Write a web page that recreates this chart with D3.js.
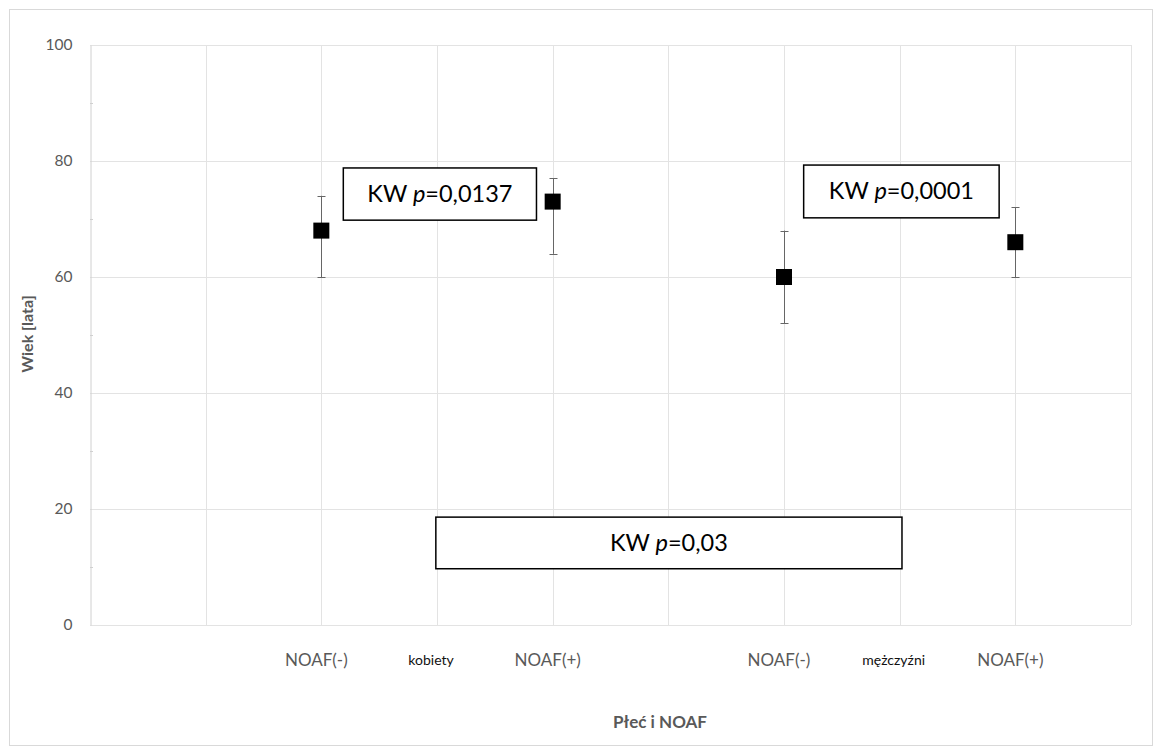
<!DOCTYPE html>
<html lang="pl">
<head>
<meta charset="utf-8">
<script src="https://cdn.jsdelivr.net/npm/d3@7"></script>
<style>
  html, body { margin: 0; padding: 0; background: #fff; }
  svg { display: block; font-family: Lato, "Open Sans", "Noto Sans", sans-serif; }
</style>
</head>
<body>
<svg id="chart" width="1160" height="755"></svg>
<script>
// Age (mean with spread) by sex and NOAF status
const groupLabels = ["NOAF(-)", "NOAF(+)", "NOAF(-)", "NOAF(+)"];
const groupSlots  = [2, 4, 6, 8];
const meanAge     = [68, 73, 60, 66];
const lowAge      = [60, 64, 52, 60];
const highAge     = [74, 77, 68, 72];

const sexLabels = ["kobiety", "mężczyźni"];
const sexSlots  = [3, 7];

const yTicks = [0, 20, 40, 60, 80, 100];
const yMinorTicks = [10, 30, 50, 70, 90];
const xGridSlots = [0, 1, 2, 3, 4, 5, 6, 7, 8, 9];

const testValues = ["=0,0137", "=0,0001", "=0,03"];

const svg = d3.select("#chart");

// chart frame
svg.append("rect")
  .attr("x", 9.5).attr("y", 9.5)
  .attr("width", 1143).attr("height", 736)
  .attr("fill", "#fff").attr("stroke", "#d9d9d9").attr("stroke-width", 1);

const x = d3.scaleLinear().domain([0, 9]).range([90, 1131]);
const y = d3.scaleLinear().domain([0, 100]).range([625, 45]);

const grid = svg.append("g").attr("class", "grid");
grid.selectAll("line.h").data(yTicks).join("line")
  .attr("class", "h")
  .attr("x1", x(0)).attr("x2", x(9))
  .attr("y1", d => Math.round(y(d)) + 0.5).attr("y2", d => Math.round(y(d)) + 0.5)
  .attr("stroke", "#e3e3e3").attr("stroke-width", 1);
grid.selectAll("line.v").data(xGridSlots.slice(1)).join("line")
  .attr("class", "v")
  .attr("x1", d => Math.round(x(d)) + 0.5).attr("x2", d => Math.round(x(d)) + 0.5)
  .attr("y1", y(100)).attr("y2", y(0))
  .attr("stroke", "#e3e3e3").attr("stroke-width", 1);

// y axis
const yAxis = d3.axisLeft(y).tickValues(yTicks).tickSize(0).tickPadding(18);
const gy = svg.append("g").attr("transform", `translate(${Math.round(x(0)) + 0.5},0)`).call(yAxis);
gy.select(".domain").attr("stroke", "#d0d0d0");
gy.selectAll("text").attr("fill", "#595959").attr("font-size", 15.5)
  .attr("font-family", "Lato, 'Open Sans', sans-serif");

svg.append("g").selectAll("line").data(yMinorTicks).join("line")
  .attr("x1", x(0)).attr("x2", x(0) + 3)
  .attr("y1", d => Math.round(y(d)) + 0.5).attr("y2", d => Math.round(y(d)) + 0.5)
  .attr("stroke", "#d0d0d0");

// category labels along the bottom
svg.append("g").selectAll("text").data(groupLabels).join("text")
  .attr("x", (d, i) => x(groupSlots[i]) - 5)
  .attr("y", 666)
  .attr("text-anchor", "middle")
  .attr("font-size", 17).attr("fill", "#595959")
  .text(d => d);
svg.append("g").selectAll("text").data(sexLabels).join("text")
  .attr("x", (d, i) => x(sexSlots[i]) - 6)
  .attr("y", 665)
  .attr("text-anchor", "middle")
  .attr("font-size", 14).attr("fill", "#111")
  .text(d => d);

// axis titles
svg.append("text")
  .attr("transform", "translate(33,334) rotate(-90)")
  .attr("text-anchor", "middle")
  .attr("font-size", 16).attr("font-weight", "bold").attr("fill", "#595959")
  .text("Wiek [lata]");
svg.append("text")
  .attr("x", 660).attr("y", 728)
  .attr("text-anchor", "middle")
  .attr("font-size", 17).attr("font-weight", "bold").attr("fill", "#595959")
  .text("Płeć i NOAF");

// error bars
const eb = svg.append("g").attr("stroke", "#666").attr("stroke-width", 1);
groupSlots.forEach((s, i) => {
  const cx = Math.round(x(s)) + 0.5;
  eb.append("line").attr("x1", cx).attr("x2", cx).attr("y1", y(highAge[i])).attr("y2", y(lowAge[i]));
  [highAge[i], lowAge[i]].forEach(v => {
    eb.append("line").attr("x1", cx - 4).attr("x2", cx + 4)
      .attr("y1", Math.round(y(v)) + 0.5).attr("y2", Math.round(y(v)) + 0.5);
  });
});

// mean markers
const sz = 16;
svg.append("g").selectAll("rect").data(meanAge).join("rect")
  .attr("x", (d, i) => x(groupSlots[i]) - sz / 2)
  .attr("y", d => y(d) - sz / 2)
  .attr("width", sz).attr("height", sz)
  .attr("fill", "#000");

// Kruskal-Wallis annotation boxes
const boxes = [
  { x0: 2.19, x1: 3.86, y0: 78.8, y1: 69.8, value: testValues[0] },
  { x0: 6.17, x1: 7.86, y0: 79.3, y1: 70.2, value: testValues[1] },
  { x0: 2.99, x1: 7.02, y0: 18.6, y1: 9.7, value: testValues[2] }
];
boxes.forEach(b => {
  const g = svg.append("g");
  g.append("rect")
    .attr("x", x(b.x0)).attr("y", y(b.y0))
    .attr("width", x(b.x1) - x(b.x0)).attr("height", y(b.y1) - y(b.y0))
    .attr("fill", "#fff").attr("stroke", "#000").attr("stroke-width", 1.5);
  const t = g.append("text")
    .attr("x", (x(b.x0) + x(b.x1)) / 2)
    .attr("y", (y(b.y0) + y(b.y1)) / 2 + 8)
    .attr("text-anchor", "middle")
    .attr("font-size", 23.5).attr("fill", "#000");
  t.append("tspan").text("KW ");
  t.append("tspan").attr("font-style", "italic").text("p");
  t.append("tspan").text(b.value);
});
</script>
</body>
</html>
